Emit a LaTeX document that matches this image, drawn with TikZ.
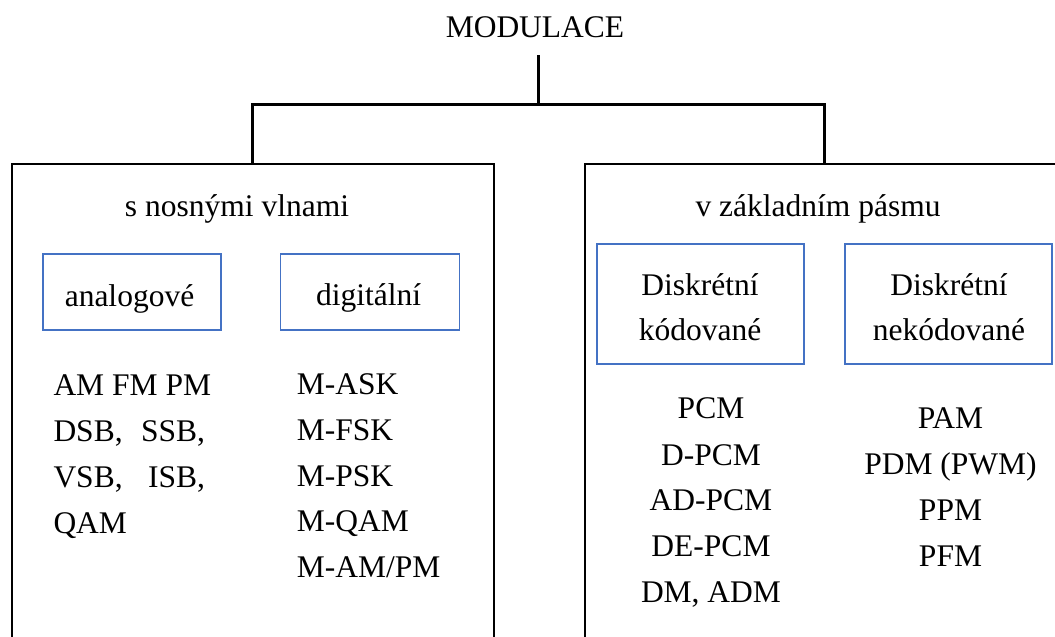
\documentclass[tikz,border=0pt]{standalone}
\usepackage{fontspec}
\setmainfont{Liberation Serif}
\definecolor{boxblue}{HTML}{4472C4}
\begin{document}
\begin{tikzpicture}[x=1pt,y=-1pt,
  txt/.style={inner sep=0pt,font=\fontsize{31.5}{38}\selectfont},
  tree/.style={line width=3pt},
  outerbox/.style={draw,line width=2.4pt,rectangle,inner sep=0pt,anchor=north west},
  bluebox/.style={draw=boxblue,line width=1.9pt,rectangle,inner sep=0pt}]
\useasboundingbox (0,0) rectangle (1055,637);
\clip (0,0) rectangle (1055,637);
% title
\node[txt,anchor=base] (mod) at (535,37) {MODULACE};
% outer boxes (open at bottom / right)
\node[outerbox,minimum width=482,minimum height=560] (lbox) at (10.5,162.5) {};
\node[outerbox,minimum width=560,minimum height=560] (rbox) at (584,162.5) {};
% tree connectors
\coordinate (top) at (538,55);
\coordinate (hub) at (538,104);
\coordinate (lj) at (252.3,104);
\coordinate (rj) at (824.3,104);
\draw[tree] (top) -- (hub);
\draw[tree,line cap=rect] (lj) -- (rj);
\draw[tree] (lj) -- (lj |- lbox.north);
\draw[tree] (rj) -- (rj |- rbox.north);
% headings
\node[txt,anchor=base] (lhead) at (237,216.7) {s nosnými vlnami};
\node[txt,anchor=base] (rhead) at (818,216.7) {v základním pásmu};
% blue boxes
\node[bluebox,minimum width=178,minimum height=75.7] (ana) at (131.7,292.2) {};
\node[bluebox,minimum width=179,minimum height=76] (dig) at (370,292) {};
\node[bluebox,minimum width=207,minimum height=120] (dk) at (700.5,304) {};
\node[bluebox,minimum width=207,minimum height=120] (dn) at (948.5,304) {};
\node[txt,anchor=base] (anat) at (129.5,306) {analogové};
\node[txt,anchor=base] (digt) at (368.5,305) {digitální};
\node[txt,anchor=base] (dkt1) at (700,295) {Diskrétní};
\node[txt,anchor=base] (dkt2) at (700,340.7) {kódované};
\node[txt,anchor=base] (dnt1) at (949,295) {Diskrétní};
\node[txt,anchor=base] (dnt2) at (949,340.7) {nekódované};
% analog list
\node[txt,anchor=base west] (a1) at (53.3,395.7) {AM FM PM};
\node[txt,anchor=base west] (a2) at (53.3,441.7) {DSB,\hspace{18.5pt}SSB,};
\node[txt,anchor=base west] (a3) at (53.3,487.3) {VSB,\hspace{25.5pt}ISB,};
\node[txt,anchor=base west] (a4) at (53.3,533.2) {QAM};
% digital list
\node[txt,anchor=base west] (d1) at (296.6,394) {M-ASK};
\node[txt,anchor=base west] (d2) at (296.6,440) {M-FSK};
\node[txt,anchor=base west] (d3) at (296.6,486) {M-PSK};
\node[txt,anchor=base west] (d4) at (296.6,531.7) {M-QAM};
\node[txt,anchor=base west] (d5) at (296.6,577.3) {M-AM/PM};
% coded list
\node[txt,anchor=base] (k1) at (711,418.3) {PCM};
\node[txt,anchor=base] (k2) at (711,465) {D-PCM};
\node[txt,anchor=base] (k3) at (711,510.7) {AD-PCM};
\node[txt,anchor=base] (k4) at (711,556.7) {DE-PCM};
\node[txt,anchor=base] (k5) at (711,602.7) {DM, ADM};
% uncoded list
\node[txt,anchor=base] (n1) at (950.5,428.3) {PAM};
\node[txt,anchor=base] (n2) at (950.5,474) {PDM (PWM)};
\node[txt,anchor=base] (n3) at (950.5,520.7) {PPM};
\node[txt,anchor=base] (n4) at (950.5,566.7) {PFM};
\end{tikzpicture}
\end{document}
